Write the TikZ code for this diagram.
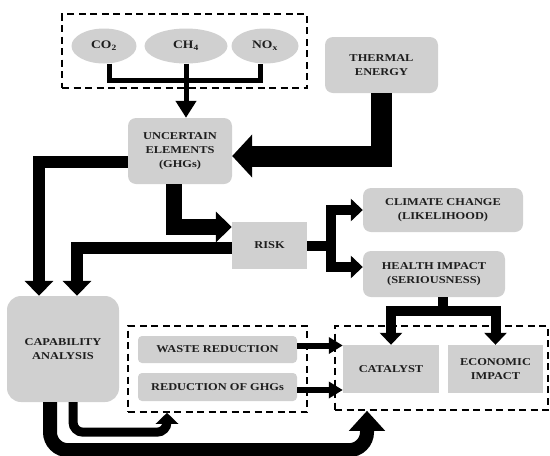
\documentclass[tikz,border=0pt]{standalone}
\usepackage{fontspec}
\usepackage{xcolor}
\usepackage{tikz}
\usetikzlibrary{arrows.meta}
\usetikzlibrary{shapes.geometric}
\newfontfamily\boxfont{Liberation Serif}[FakeStretch=1.18]
\definecolor{boxgray}{RGB}{208,208,208}
\definecolor{inkgray}{RGB}{30,30,30}
\tikzset{
    tnode/.style = {align=center, inner sep=0pt, text centered, text=inkgray, font=\boxfont\bfseries\fontsize{10.5}{14}\selectfont},
    sbox/.style = {tnode, rectangle, fill=boxgray},
    rbox/.style = {sbox, rounded corners=8pt},
    gas/.style = {tnode, ellipse, fill=boxgray, minimum height=35pt, font=\boxfont\bfseries\fontsize{11.5}{14}\selectfont},
    dashbox/.style = {rectangle, draw=black, line width=1.6pt, dash pattern=on 7pt off 4.5pt}
}
\tikzset{
    pipe/.style = {draw=black, line width=#1},
    head/.style 2 args = {-{Triangle[width=#1, length=#2]}}
}
\begin{document}
\begin{tikzpicture}[x=1pt, y=-1pt, line join=miter]
\useasboundingbox (0,0) rectangle (550,456);

\node [dashbox, minimum width=245pt, minimum height=74pt] (gases) at (184.5,51) {};
\node [gas, minimum width=65pt] (co2) at (104,46) {CO\textsubscript{2}};
\node [gas, minimum width=83pt] (ch4) at (186,46) {CH\textsubscript{4}};
\node [gas, minimum width=67pt] (nox) at (265,46) {NO\textsubscript{x}};

\node [rbox, minimum width=104pt, minimum height=66pt] (uncert) at (180,151) {UNCERTAIN\\ELEMENTS\\(GHGs)};
\node [rbox, minimum width=113pt, minimum height=56pt] (thermal) at (381.5,65) {THERMAL\\ENERGY};
\node [sbox, minimum width=75pt, minimum height=47pt] (risk) at (269.5,245.5) {RISK};
\node [rbox, minimum width=160pt, minimum height=44pt] (climate) at (443,210) {CLIMATE CHANGE\\(LIKELIHOOD)};
\node [rbox, minimum width=142pt, minimum height=46pt] (health) at (434,274) {HEALTH IMPACT\\(SERIOUSNESS)};
\node [rbox, rounded corners=14pt, minimum width=112pt, minimum height=106pt] (capab) at (63,349) {CAPABILITY\\ANALYSIS};

\node [dashbox, minimum width=179pt, minimum height=86pt] (measures) at (217.5,369) {};
\node [rbox, rounded corners=4pt, minimum width=159pt, minimum height=27pt] (waste) at (217.5,349.5) {WASTE REDUCTION};
\node [rbox, rounded corners=4pt, minimum width=159pt, minimum height=28pt] (redghg) at (217.5,387) {REDUCTION OF GHGs};

\node [dashbox, minimum width=213pt, minimum height=84pt] (effects) at (441.5,368) {};
\node [sbox, minimum width=96pt, minimum height=48pt] (catalyst) at (391,369) {CATALYST};
\node [sbox, minimum width=95pt, minimum height=48pt] (econ) at (495.5,369) {ECONOMIC\\IMPACT};

\draw [pipe=5pt] ([xshift=5pt]co2.south) |- (ch4.south |- 0,80) -| ([xshift=-5pt]nox.south);
\draw [pipe=5pt, head={20pt}{17pt}] (ch4.south) -- (ch4.south |- uncert.north);

\draw [pipe=21pt, head={42pt}{20pt}] (thermal.south) |- ([yshift=-5pt]uncert.east);
\draw [pipe=12pt, head={28pt}{15pt}] ([yshift=-11pt]uncert.west) -| ([xshift=-24pt]capab.north);
\draw [pipe=16pt, head={30pt}{16pt}] ([xshift=-6pt]uncert.south) |- ([yshift=18.5pt]risk.west);
\draw [pipe=12pt, head={28pt}{15pt}] ([yshift=-2.5pt]risk.west) -| ([xshift=14pt]capab.north);

\draw [pipe=10pt, head={22pt}{12pt}] (risk.east) -- ++(24,0) coordinate (rfork) |- (climate.west);
\draw [pipe=10pt, head={22pt}{12pt}] (rfork) |- ([yshift=7pt]health.west);

\draw [pipe=10pt] ([xshift=9pt]health.south) -- ++(0,14) coordinate (hfork);
\draw [pipe=10pt, head={22pt}{12pt}] (hfork) -| (catalyst.north);
\draw [pipe=10pt, head={22pt}{12pt}] (hfork) -| (econ.north);

\draw [pipe=6pt, head={16pt}{14pt}] ([yshift=4pt]waste.east) -- ([yshift=4pt]waste.east -| catalyst.west);
\draw [pipe=6pt, head={16pt}{14pt}] ([yshift=-3pt]redghg.east) -- ([yshift=-3pt]redghg.east -| catalyst.west);

\draw [pipe=9pt, head={22pt}{11pt}, rounded corners=10pt] ([xshift=10pt]capab.south) -- ++(0,30) -- ++(94,0) -- ([xshift=-50.5pt]measures.south);
\draw [pipe=14pt, head={35pt}{20pt}, rounded corners=18pt] ([xshift=-13pt]capab.south) -- ++(0,48) -- ++(317,0) -- ([xshift=-74.5pt]effects.south);
\end{tikzpicture}
\end{document}
